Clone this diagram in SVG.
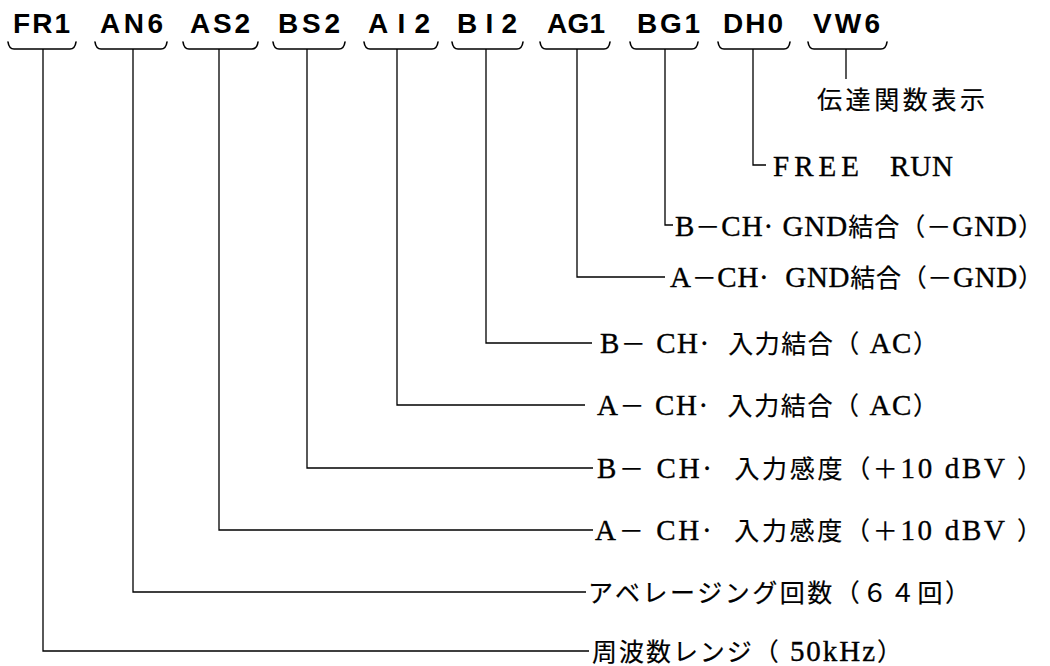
<svg xmlns="http://www.w3.org/2000/svg" width="1050" height="666" viewBox="0 0 1050 666">
<style>
.code{font-family:"Liberation Sans",Arial,sans-serif;font-weight:bold;font-size:28px;fill:#000}
.desc{font-family:"Liberation Serif","Noto Sans CJK JP",serif;font-size:29px;fill:#000;stroke:#000;stroke-width:0.35;white-space:pre}
.J{font-family:"Noto Sans CJK JP",sans-serif;font-size:25px;stroke-width:0.2}
.brace{fill:none;stroke:#000;stroke-width:1.6;stroke-linecap:round}
.ln{fill:none;stroke:#000;stroke-width:1.3}
</style>
<rect width="1050" height="666" fill="#fff"/>
<g id="FR1"><text class="code" x="13" y="33" textLength="57" lengthAdjust="spacing">FR1</text><path class="brace" d="M8,42 Q9,49 14,49 L70,49 Q75,49 76,42"/></g>
<g id="AN6"><text class="code" x="100" y="33" textLength="63" lengthAdjust="spacing">AN6</text><path class="brace" d="M95,42 Q96,49 101,49 L161,49 Q166,49 167,42"/></g>
<g id="AS2"><text class="code" x="190" y="33" textLength="60" lengthAdjust="spacing">AS2</text><path class="brace" d="M183,42 Q184,49 189,49 L252,49 Q257,49 258,42"/></g>
<g id="BS2"><text class="code" x="278" y="33" textLength="62" lengthAdjust="spacing">BS2</text><path class="brace" d="M273,42 Q274,49 279,49 L339,49 Q344,49 345,42"/></g>
<g id="AI2"><text class="code" x="368" y="33" textLength="62" lengthAdjust="spacing">AI2</text><path class="brace" d="M364,42 Q365,49 370,49 L432,49 Q437,49 438,42"/></g>
<g id="BI2"><text class="code" x="457" y="33" textLength="60" lengthAdjust="spacing">BI2</text><path class="brace" d="M452,42 Q453,49 458,49 L517,49 Q522,49 523,42"/></g>
<g id="AG1"><text class="code" x="547" y="33" textLength="58" lengthAdjust="spacing">AG1</text><path class="brace" d="M540,42 Q541,49 546,49 L604,49 Q609,49 610,42"/></g>
<g id="BG1"><text class="code" x="637" y="33" textLength="63" lengthAdjust="spacing">BG1</text><path class="brace" d="M630,42 Q631,49 636,49 L692,49 Q697,49 698,42"/></g>
<g id="DH0"><text class="code" x="723" y="33" textLength="60" lengthAdjust="spacing">DH0</text><path class="brace" d="M718,42 Q719,49 724,49 L784,49 Q789,49 790,42"/></g>
<g id="VW6"><text class="code" x="813" y="33" textLength="67" lengthAdjust="spacing">VW6</text><path class="brace" d="M808,42 Q809,49 814,49 L881,49 Q886,49 887,42"/></g>

<g id="desc-VW6"><text class="desc" x="817" y="109" textLength="168" lengthAdjust="spacing"><tspan class="J">伝達関数表示</tspan></text></g>
<g id="desc-DH0"><text class="desc" y="176"><tspan x="773" textLength="86" lengthAdjust="spacing">FREE</tspan><tspan x="890" textLength="63" lengthAdjust="spacing">RUN</tspan></text></g>
<g id="desc-BG1"><text class="desc" x="675" y="236" textLength="368" lengthAdjust="spacing">B<tspan class="J">－</tspan>CH· GND<tspan class="J">結合（－</tspan>GND<tspan class="J">）</tspan></text></g>
<g id="desc-AG1"><text class="desc" x="670" y="287" textLength="373" lengthAdjust="spacing">A<tspan class="J">－</tspan>CH·  GND<tspan class="J">結合（－</tspan>GND<tspan class="J">）</tspan></text></g>
<g id="desc-BI2"><text class="desc" x="600" y="353" textLength="338" lengthAdjust="spacing">B<tspan class="J">－</tspan> CH·  <tspan class="J">入力結合（</tspan> AC<tspan class="J">）</tspan></text></g>
<g id="desc-AI2"><text class="desc" x="597" y="415" textLength="341" lengthAdjust="spacing">A<tspan class="J">－</tspan> CH·  <tspan class="J">入力結合（</tspan> AC<tspan class="J">）</tspan></text></g>
<g id="desc-BS2"><text class="desc" x="597" y="478" textLength="445" lengthAdjust="spacing">B<tspan class="J">－</tspan> CH·  <tspan class="J">入力感度（＋</tspan>10 dBV <tspan class="J">）</tspan></text></g>
<g id="desc-AS2"><text class="desc" x="595" y="540" textLength="447" lengthAdjust="spacing">A<tspan class="J">－</tspan> CH·  <tspan class="J">入力感度（＋</tspan>10 dBV <tspan class="J">）</tspan></text></g>
<g id="desc-AN6"><text class="desc" x="588" y="602" textLength="382" lengthAdjust="spacing"><tspan class="J">アベレージング回数（６４回）</tspan></text></g>
<g id="desc-FR1"><text class="desc" x="592" y="661" textLength="310" lengthAdjust="spacing"><tspan class="J">周波数レンジ（</tspan> 50kHz<tspan class="J">）</tspan></text></g>

<g id="connectors">
<path class="ln" d="M846,49 V79"/>
<path class="ln" d="M753,49 V165 H766"/>
<path class="ln" d="M665,49 V225 H673"/>
<path class="ln" d="M577,49 V277 H665"/>
<path class="ln" d="M486,49 V343 H592"/>
<path class="ln" d="M397,49 V405 H585"/>
<path class="ln" d="M307,49 V468 H593"/>
<path class="ln" d="M219,49 V530 H593"/>
<path class="ln" d="M133,49 V592 H586"/>
<path class="ln" d="M43,49 V651 H589"/>
</g>
</svg>
